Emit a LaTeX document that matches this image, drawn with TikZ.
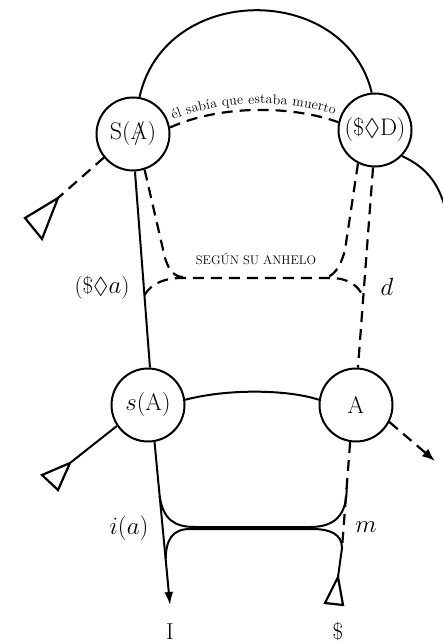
\documentclass[tikz,border=0pt]{standalone}
\usepackage{amssymb}
\usetikzlibrary{arrows.meta,decorations.text,calc}
\newcommand{\barA}{\mbox{\rlap{A}\kern0.13em/\kern0.12em}}
\begin{document}
\begin{tikzpicture}[x=1pt,y=-1pt,
  circ/.style={circle,draw,line width=2pt,minimum size=73pt,inner sep=0pt,font=\fontsize{24}{26}\selectfont},
  sol/.style={line width=2pt},
  dsh/.style={line width=2.2pt,dash pattern=on 11pt off 7pt},
  lab/.style={font=\fontsize{23}{26}\selectfont,inner sep=0pt},
  tri/.style={line width=2.2pt,line join=miter}]
\useasboundingbox (0,0) rectangle (443,644);
% circles
\node[circ] (SA) at (133,134) {S(\barA)};
\node[circ] (SD) at (375,130) {(\$$\lozenge$D)};
\node[circ] (sA) at (148,405) {$s$(A)};
\node[circ] (A) at (356,405) {A};
% free ends
\coordinate (t1) at (58,198);
\coordinate (t2) at (70,463);
\coordinate (t3) at (338,577);
\coordinate (Itip) at (170,605);
\coordinate (Aout) at (435,461);
\coordinate (mB) at (342,548);
\coordinate (edge) at (447,215);
% top arc
\draw[sol] (SA.80) .. controls (165,-18) and (345,-18) .. (SD.95);
% dashed upper chain with text
\draw[dsh] (SA.10) .. controls (220,105) and (290,105) .. (SD.168);
\path[decorate,decoration={text along path,text align=center,raise=6pt,
  text={|\fontsize{14}{16}\selectfont|él sabía que estaba muerto}}]
  (SA.10) .. controls (220,105) and (290,105) .. (SD.168);
% right exit of SD
\draw[sol] (SD.-44) .. controls (428,168) and (440,185) .. (edge);
% left dashed to triangle
\draw[dsh] (SA.219) -- (t1);
\draw[tri] (t1) -- (25,218) -- (42,239) -- cycle;
% main vertical solid
\draw[sol] (SA.273) -- (sA.87);
% dashed from SA down to cusp
\draw[dsh] (SA.288) -- (165,258) .. controls (169,271) and (175,277) .. (183,277);
% dashed from SD down to cusp
\draw[dsh] (SD.243) -- (345,250) .. controls (341,265) and (336,273) .. (328,277);
% d line
\draw[dsh] (SD.267) -- (A.87);
% horizontal dashed
\coordinate (hL) at ($(SA.273)!0.63!(sA.87)$);
\coordinate (hR) at ($(SD.267)!0.647!(A.87)$);
\draw[dsh] (hL) .. controls (152,283) and (165,278) .. (182,278) -- (330,278)
  .. controls (348,278) and (358,285) .. (hR);
\node[font=\fontsize{12.5}{14}\selectfont] (anh) at (256,259) {SEGÚN SU ANHELO};
% lower level
\draw[sol] (sA.8) .. controls (230,388) and (290,390) .. (A.172);
\draw[sol] (sA.214) -- (t2);
\draw[tri] (t2) -- (42,475) -- (58,490) -- cycle;
\draw[dsh,-{Latex[length=13pt,width=10pt]}] (A.-27) -- (Aout);
\draw[sol,-{Latex[length=13pt,width=9pt]}] (sA.280) -- (Itip);
\draw[dsh] (A.261) -- (mB);
\coordinate (uL) at ($(sA.280)!0.33!(Itip)$);
\coordinate (uR) at ($(A.261)!0.43!(mB)$);
\draw[sol] (uL) .. controls (163,520) and (175,527) .. (195,527) -- (310,527)
  .. controls (335,527) and (347,515) .. (uR);
\coordinate (lL) at ($(sA.280)!0.72!(Itip)$);
\draw[sol] (t3) -- (mB) .. controls (342,534) and (330,529) .. (312,529) -- (190,529)
  .. controls (172,529) and (166,540) .. (lL);
\draw[tri] (t3) -- (325,603) -- (343,605) -- cycle;
% labels
\node[lab] (la) at (102,288) {(\$$\lozenge a$)};
\node[lab] (ld) at (387,287) {$d$};
\node[lab] (lm) at (366,527) {$m$};
\node[lab] (lia) at (129,528) {$i(a)$};
\node[lab] (lI) at (170,632) {I};
\node[lab] (lS) at (338,632) {\$};
\end{tikzpicture}
\end{document}
